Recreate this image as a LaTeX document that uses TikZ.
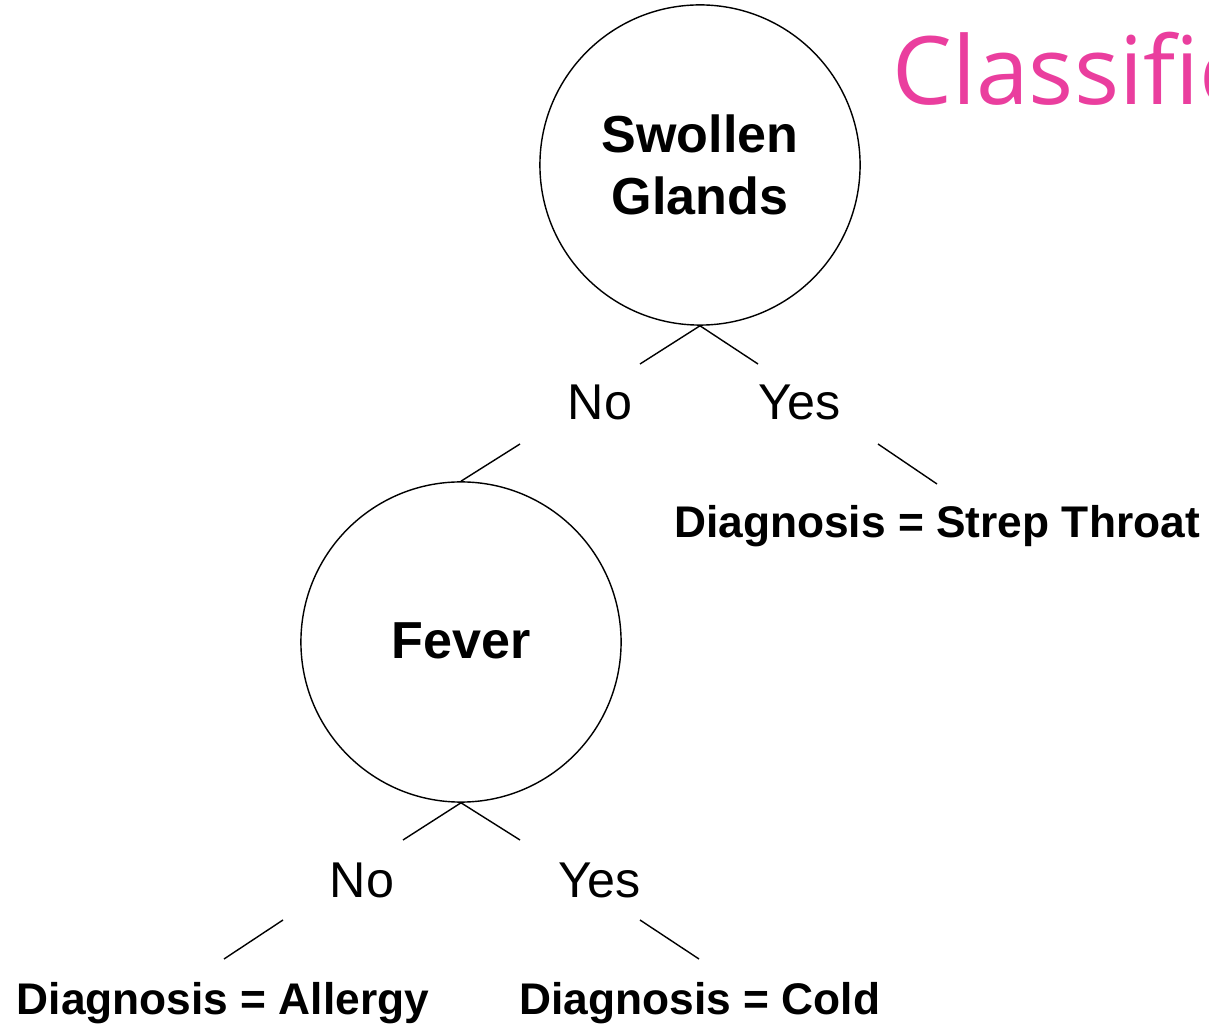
\documentclass[tikz,border=0pt]{standalone}
\usepackage{fontspec}
\setmainfont{Liberation Sans}
\newfontfamily\titlefont{Open Sans}
\usepackage{tikz}
\usetikzlibrary{positioning}
\definecolor{titlepink}{RGB}{234,62,158}

\begin{document}
\begin{tikzpicture}[
  x=0.01cm, y=-0.01cm,
  test/.style={draw, line width=0.4pt, circle, minimum size=3.2cm, inner sep=0pt},
  testtext/.style={anchor=base, inner sep=0pt, align=center, font=\fontsize{14.8}{17.9}\selectfont\bfseries},
  answer/.style={anchor=base, inner sep=0pt, font=\fontsize{14.3}{16}\selectfont},
  leaf/.style={anchor=base, inner sep=0pt, font=\fontsize{12.6}{15}\selectfont\bfseries},
  branch/.style={line width=0.4pt}
]
\useasboundingbox (0,0) rectangle (1209,1025);
\node[anchor=base west, inner sep=0pt, text=titlepink, font=\fontsize{26.9}{30}\titlefont] (title) at (892,105) {Classific};

\node[test] (sg) at (700,165) {};
\node[testtext] (sgtext) at (700,215) {Swollen\\Glands};
\node[answer] (sgno)  at (600,420) {No};
\node[answer] (sgyes) at (800,420) {Yes};
\node[test] (fe) at (461,642) {};
\node[testtext] (fetext) at (461,659) {Fever};
\node[leaf] (strep) at (937,538) {Diagnosis = Strep Throat};
\node[answer] (feno)  at (362,897) {No};
\node[answer] (feyes) at (600,897) {Yes};
\node[leaf] (allergy) at (223,1014) {Diagnosis = Allergy};
\node[leaf] (cold)    at (700,1014) {Diagnosis = Cold};

% branch ends
\coordinate (sgnoA)  at (640,364);
\coordinate (sgyesA) at (758,364);
\coordinate (sgnoB)  at (520,444);
\coordinate (sgyesB) at (878,444);
\coordinate (strepT) at (937,484);
\coordinate (fenoA)  at (403,840);
\coordinate (feyesA) at (520,840);
\coordinate (fenoB)  at (283,920);
\coordinate (feyesB) at (640,920);
\coordinate (allergyT) at (224,959);
\coordinate (coldT)    at (699,959);

\draw[branch] (sg.south) -- (sgnoA);
\draw[branch] (sg.south) -- (sgyesA);
\draw[branch] (sgnoB) -- (fe.north);
\draw[branch] (sgyesB) -- (strepT);
\draw[branch] (fe.south) -- (fenoA);
\draw[branch] (fe.south) -- (feyesA);
\draw[branch] (fenoB) -- (allergyT);
\draw[branch] (feyesB) -- (coldT);
\end{tikzpicture}
\end{document}
